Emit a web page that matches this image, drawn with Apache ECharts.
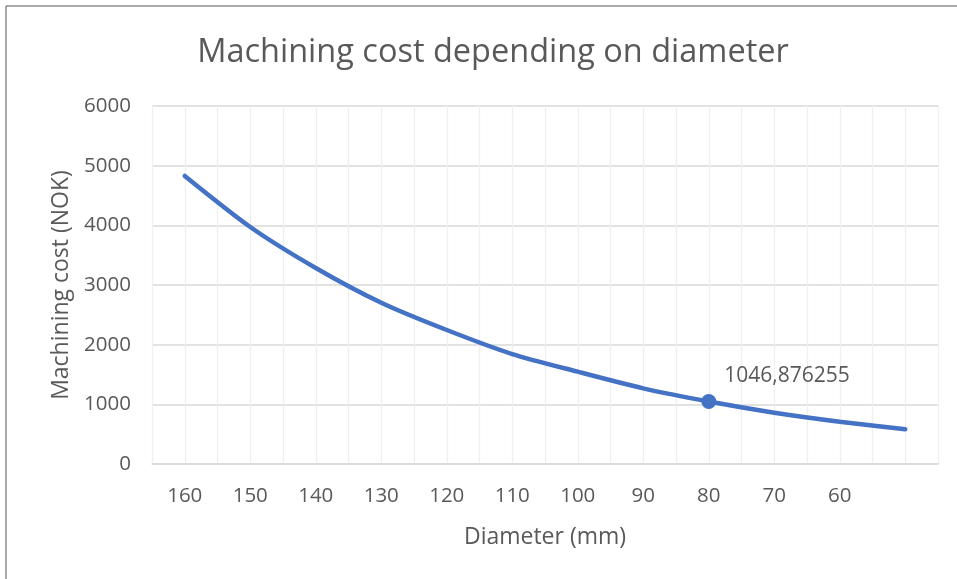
<!DOCTYPE html>
<html>
<head>
<meta charset="utf-8">
<script src="https://cdn.jsdelivr.net/npm/echarts@6/dist/echarts.min.js"></script>
<style>
html,body{margin:0;padding:0;background:#fff;}
#chart{width:957px;height:579px;}
</style>
</head>
<body>
<div id="chart"></div>
<script>
var diameters = [160, 150, 140, 130, 120, 110, 100, 90, 80, 70, 60, 50];
var costs = [4827, 3972, 3285, 2703, 2246, 1843, 1547, 1268, 1046.876255, 860, 709, 581];
var xTickLabels = ['160', '150', '140', '130', '120', '110', '100', '90', '80', '70', '60'];
var yTicks = [0, 1000, 2000, 3000, 4000, 5000, 6000];
var labelledDiameter = 80;

var seriesData = diameters.map(function (d, i) {
  var item = { value: [d, costs[i]] };
  if (d === labelledDiameter) {
    item.symbol = 'circle';
    item.symbolSize = 15;
    item.label = {
      show: true,
      position: 'right',
      distance: 8,
      offset: [0, -26],
      formatter: function (p) { return String(p.value[1]).replace('.', ','); },
      color: '#595959',
      fontSize: 21,
      fontFamily: 'Open Sans'
    };
  }
  return item;
});

var chart = echarts.init(document.getElementById('chart'));
var txt = '#595959';
chart.setOption({
  backgroundColor: '#ffffff',
  animation: false,
  title: {
    text: 'Machining cost depending on diameter',
    left: 488,
    top: 31,
    textAlign: 'center',
    textStyle: { color: txt, fontSize: 32.5, fontWeight: 'normal', fontFamily: 'Open Sans' }
  },
  grid: { left: 152, right: 19, top: 106, bottom: 115 },
  xAxis: {
    type: 'value',
    inverse: true,
    min: 45,
    max: 165,
    interval: 5,
    name: 'Diameter (mm)',
    nameLocation: 'middle',
    nameGap: 62,
    nameTextStyle: { color: txt, fontSize: 23, fontFamily: 'Open Sans' },
    axisLine: { show: true, lineStyle: { color: '#d9d9d9', width: 1.5 } },
    axisTick: { show: false },
    axisLabel: {
      color: txt, fontSize: 20.5, fontFamily: 'Open Sans', margin: 22,
      formatter: function (v) {
        var s = String(v);
        return xTickLabels.indexOf(s) >= 0 ? s : '';
      }
    },
    splitLine: { show: true, lineStyle: { color: '#efefef', width: 1.3 } }
  },
  yAxis: {
    type: 'value',
    min: yTicks[0],
    max: yTicks[yTicks.length - 1],
    interval: 1000,
    name: 'Machining cost (NOK)',
    nameLocation: 'middle',
    nameGap: 78,
    nameTextStyle: { color: txt, fontSize: 23, fontFamily: 'Open Sans' },
    axisLine: { show: false },
    axisTick: { show: false },
    axisLabel: {
      color: txt, fontSize: 20.5, fontFamily: 'Open Sans', margin: 21,
      formatter: function (v) { return String(v); }
    },
    splitLine: { show: true, lineStyle: { color: '#d9d9d9', width: 1.5 } }
  },
  series: [{
    type: 'line',
    data: seriesData,
    smooth: 0.25,
    symbol: 'none',
    showAllSymbol: true,
    lineStyle: { color: '#4472C4', width: 4.5, cap: 'round' },
    itemStyle: { color: '#4472C4' }
  }],
  graphic: [
    { type: 'line', shape: { x1: 6, y1: 6, x2: 957, y2: 6 }, style: { stroke: '#8c8c8c', lineWidth: 1.5 }, silent: true },
    { type: 'line', shape: { x1: 6, y1: 6, x2: 6, y2: 579 }, style: { stroke: '#8c8c8c', lineWidth: 1.5 }, silent: true }
  ]
});
</script>
</body>
</html>
